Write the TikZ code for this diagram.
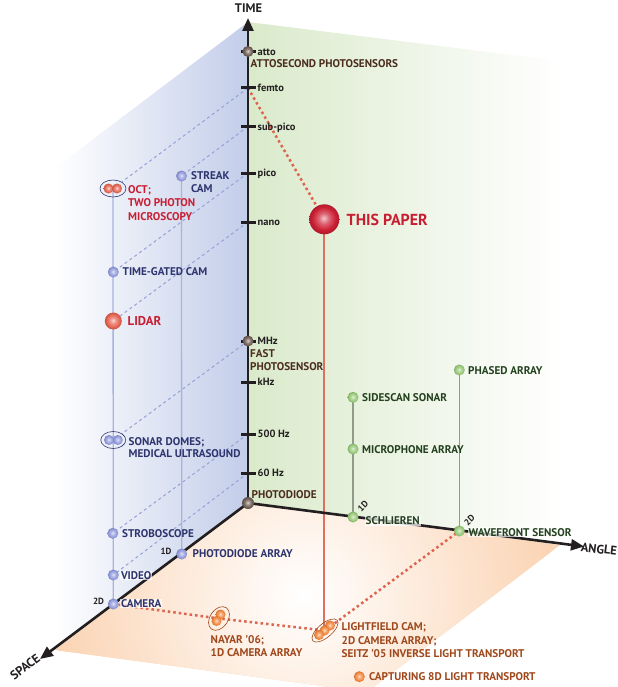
\documentclass[tikz,border=0pt]{standalone}
\usepackage{fontspec}
\setmainfont{PT Sans}
\usetikzlibrary{shapes.geometric,arrows.meta}
\pgfdeclarelayer{panels}
\pgfdeclarelayer{links}
\pgfsetlayers{panels,links,main}
\definecolor{axisC}{RGB}{35,31,32}
\definecolor{blueP}{RGB}{194,205,233}
\definecolor{greenP}{RGB}{218,234,203}
\definecolor{floorC}{RGB}{251,212,180}
\definecolor{navyT}{RGB}{45,52,110}
\definecolor{redT}{RGB}{200,30,50}
\definecolor{greenT}{RGB}{35,65,30}
\definecolor{floorT}{RGB}{160,72,28}
\definecolor{brownT}{RGB}{75,45,30}
\definecolor{blueS}{RGB}{145,155,220}
\definecolor{redS}{RGB}{230,100,80}
\definecolor{paperS}{RGB}{205,32,52}
\definecolor{greenS}{RGB}{150,200,118}
\definecolor{orangeS}{RGB}{243,135,60}
\definecolor{darkS}{RGB}{110,92,82}
\definecolor{bdashC}{RGB}{150,160,215}
\definecolor{bvertC}{RGB}{170,178,222}
\definecolor{gvertC}{RGB}{145,155,140}
\definecolor{rdotC}{RGB}{222,100,80}
\definecolor{rlineC}{RGB}{222,112,95}
\colorlet{sphcol}{blueS}
\pgfdeclareradialshading[sphcol]{softball}{\pgfpoint{-1bp}{2bp}}{%
  color(0bp)=(sphcol!25!white); color(9bp)=(sphcol!70!white);
  color(19bp)=(sphcol); color(25bp)=(sphcol!85!black); color(50bp)=(sphcol!85!black)}
\begin{document}
\begin{tikzpicture}[x=1bp,y=-1bp,
  tickm/.style={rectangle,fill=axisC,minimum width=15bp,minimum height=3bp,inner sep=0pt},
  sph/.style={circle,inner sep=0pt,minimum size=11bp},
  bc/.style={/utils/exec={\colorlet{sphcol}{#1}},shade,shading=softball},
  grp/.style={ellipse,draw,line width=0.6bp,inner sep=0pt},
  txt/.style={font=\bfseries\fontsize{11.2}{12.8}\selectfont,inner sep=1bp},
  lbl/.style={txt,anchor=west,text height=7.8bp,text depth=0bp},
  tlbl/.style={font=\bfseries\fontsize{10.5}{12}\selectfont,inner sep=1bp,anchor=west,text height=7.4bp,text depth=0bp,text=axisC},
  mlbl/.style={txt,anchor=north west,align=left},
  dimlbl/.style={font=\bfseries\fontsize{9}{10}\selectfont,inner sep=0.5bp,text=axisC},
  axlbl/.style={font=\bfseries\fontsize{12.5}{14}\selectfont,inner sep=0pt,text=axisC},
  bgw/.style={fill=white,fill opacity=0.7,text opacity=1},
  bdash/.style={draw=bdashC,line width=1bp,dash pattern=on 3bp off 3bp},
  bvert/.style={draw=bvertC,line width=1.3bp},
  gvert/.style={draw=gvertC,line width=1.3bp},
  rdot/.style={draw=rdotC,line width=2.5bp,dash pattern=on 2.5bp off 3bp},
  rline/.style={draw=rlineC,line width=2bp},
  axisline/.style={draw=axisC,line width=2.6bp,-{Triangle[width=11bp,length=13bp]}}
]
\useasboundingbox (0,0) rectangle (618,687);

% ---------- panels ----------
\begin{pgfonlayer}{panels}
\shade[left color=white,right color=blueP] (248,22) -- (55,168) -- (55,650) -- (248,503) -- cycle;
\shade[left color=greenP,right color=white] (248,22) -- (560,61) -- (560,545) -- (248,503) -- cycle;
\begin{scope}
\clip (248,503) -- (560,545) -- (367,692) -- (55,650) -- cycle;
\fill[floorC] (0,400) rectangle (618,700);
\shade[inner color=white,outer color=floorC] (303,595) circle (250);
\end{scope}
\end{pgfonlayer}

% ---------- axis ends ----------
\coordinate (ttop) at (248,18);
\coordinate (aend) at (584,546.5);
\coordinate (send) at (40,659);
\node[axlbl] (ltime) at (248.5,8) {TIME};
\node[axlbl,rotate=-7] (langle) at (599,549) {ANGLE};
\node[axlbl,rotate=37] (lspace) at (25,667) {SPACE};

% ---------- ticks ----------
\node[tickm] (tatto) at (248,51.5) {};
\node[tickm] (tfemto) at (248,88) {};
\node[tickm] (tsub) at (248,126.5) {};
\node[tickm] (tpico) at (248,173) {};
\node[tickm] (tnano) at (248,222) {};
\node[tickm] (tmhz) at (248,341) {};
\node[tickm] (tkhz) at (248,382) {};
\node[tickm] (t500) at (248,434) {};
\node[tickm] (t60) at (248,473) {};
\node[sph,bc=darkS] (satto) at (248,51.5) {};
\node[sph,bc=darkS] (smhz) at (248,341) {};
\node[sph,bc=darkS,minimum size=12bp] (pd) at (248,503) {};

\node[tlbl] (latto) at (256.5,51.5) {atto};
\node[tlbl] (lfemto) at (256.5,88) {femto};
\node[tlbl] (lsub) at (256.5,126.5) {sub-pico};
\node[tlbl] (lpico) at (256.5,173) {pico};
\node[tlbl] (lnano) at (256.5,222) {nano};
\node[tlbl] (lmhz) at (256.5,341) {MHz};
\node[tlbl] (lkhz) at (256.5,382) {kHz};
\node[tlbl] (l500) at (256.5,434) {500 Hz};
\node[tlbl] (l60) at (256.5,473) {60 Hz};
\node[lbl,text=brownT] (lattos) at (249.5,64) {ATTOSECOND PHOTOSENSORS};
\node[mlbl,text=brownT] (lfast) at (249,348.8) {FAST\\PHOTOSENSOR};
\node[lbl,text=brownT] (lpd) at (250.5,494.5) {PHOTODIODE};

% ---------- space-time items ----------
\node[grp,draw=navyT,minimum width=26bp,minimum height=17bp] (octE) at (113,188.5) {};
\node[sph,bc=redS,minimum size=10bp] (oct1) at (108.5,188.5) {};
\node[sph,bc=redS,minimum size=10bp] (oct2) at (117,188.5) {};
\node[mlbl,text=redT,font=\bfseries\fontsize{11.2}{13.3}\selectfont] (loct) at (127,184.4) {OCT;\\TWO PHOTON\\MICROSCOPY};

\node[sph,bc=blueS] (streak) at (181.5,176) {};
\node[mlbl,text=navyT,font=\bfseries\fontsize{11.2}{12.6}\selectfont] (lstreak) at (190,170.4) {STREAK\\CAM};

\node[sph,bc=blueS] (tgc) at (113.3,272) {};
\node[lbl,text=navyT] (ltgc) at (121.5,272) {TIME-GATED CAM};

\node[sph,bc=redS,minimum size=17bp] (lidar) at (113.3,321) {};
\node[lbl,text=redT,font=\bfseries\fontsize{12.8}{14}\selectfont,text height=9bp] (llidar) at (126.5,321) {LIDAR};

\node[grp,draw=navyT,minimum width=25bp,minimum height=17bp] (sonarE) at (113.3,440) {};
\node[sph,bc=blueS,minimum size=10bp] (sonar1) at (109,440) {};
\node[sph,bc=blueS,minimum size=10bp] (sonar2) at (117.8,440) {};
\node[mlbl,text=navyT,font=\bfseries\fontsize{11.2}{11.8}\selectfont] (lsonar) at (127.5,436.8) {SONAR DOMES;\\MEDICAL ULTRASOUND};

\node[sph,bc=blueS] (strobo) at (112.8,533.3) {};
\node[lbl,text=navyT] (lstrobo) at (121,533.3) {STROBOSCOPE};

\node[sph,bc=blueS] (pdarr) at (181.7,554) {};
\node[dimlbl] (d1a) at (166,551) {1D};
\node[lbl,text=navyT] (lpdarr) at (191.5,554) {PHOTODIODE ARRAY};

\node[sph,bc=blueS] (video) at (113.3,575) {};
\node[lbl,text=navyT,bgw] (lvideo) at (119.8,575.5) {VIDEO};

\node[sph,bc=blueS] (cam) at (113.3,604) {};
\node[dimlbl] (d2a) at (98.5,601.5) {2D};
\node[lbl,text=navyT,bgw] (lcam) at (119.8,603.5) {CAMERA};

% ---------- floor items ----------
\node[grp,draw=floorT,minimum width=26bp,minimum height=18bp,rotate=55] (nayE) at (219,618.5) {};
\node[sph,bc=orangeS,minimum size=10bp] (nay1) at (220.5,614.5) {};
\node[sph,bc=orangeS,minimum size=10bp] (nay2) at (216.5,621) {};
\node[mlbl,text=floorT,font=\bfseries\fontsize{11.2}{13}\selectfont] (lnay) at (209.5,634.4) {NAYAR ’06;\\1D CAMERA ARRAY};

\node[grp,draw=floorT,minimum width=32bp,minimum height=14bp,rotate=40] (lfE) at (325,630.5) {};
\node[sph,bc=orangeS,minimum size=10bp] (lf1) at (330,625.5) {};
\node[sph,bc=orangeS,minimum size=10bp] (lf2) at (324.5,630.5) {};
\node[sph,bc=orangeS,minimum size=10bp] (lf3) at (319,635) {};
\node[mlbl,text=floorT,font=\bfseries\fontsize{11.2}{13.2}\selectfont] (llf) at (340.5,621.8) {LIGHTFIELD CAM;\\2D CAMERA ARRAY;\\SEITZ ’05 INVERSE LIGHT TRANSPORT};

\node[sph,bc=orangeS,minimum size=11bp] (cap) at (359.3,676.7) {};
\node[lbl,text=floorT] (lcap) at (368,676.7) {CAPTURING 8D LIGHT TRANSPORT};

% ---------- time-angle items ----------
\node[sph,bc=paperS,minimum size=30bp] (paper) at (324.3,219.3) {};
\node[lbl,text=redT,font=\bfseries\fontsize{16}{18}\selectfont,text height=11.2bp] (lpaper) at (345.5,219.5) {THIS PAPER};

\node[sph,bc=greenS] (side) at (353,397.3) {};
\node[lbl,text=greenT] (lside) at (361,397.3) {SIDESCAN SONAR};
\node[sph,bc=greenS] (micro) at (353,449) {};
\node[lbl,text=greenT] (lmicro) at (361,449.3) {MICROPHONE ARRAY};
\node[sph,bc=greenS] (schl) at (353,517) {};
\node[dimlbl,rotate=45] (d1b) at (363,506.5) {1D};
\node[lbl,text=greenT,bgw] (lschl) at (364.5,520.7) {SCHLIEREN};

\node[sph,bc=greenS] (phased) at (459.3,370) {};
\node[lbl,text=greenT] (lphased) at (467,370.7) {PHASED ARRAY};
\node[sph,bc=greenS] (wave) at (459.3,531) {};
\node[dimlbl,rotate=45] (d2b) at (469.5,520) {2D};
\node[lbl,text=greenT,bgw] (lwave) at (467.5,532.3) {WAVEFRONT SENSOR};

% ---------- connectors ----------
\begin{pgfonlayer}{links}
\draw[bdash] (tfemto.center) -- (octE);
\draw[bdash] (tsub.center) -- (streak.center);
\draw[bdash] (tpico.center) -- (tgc.center);
\draw[bdash] (tnano.center) -- (lidar.center);
\draw[bdash] (tmhz.center) -- (sonarE);
\draw[bdash] (t500.center) -- (strobo.center);
\draw[bdash] (t60.center) -- (video.center);
\draw[bvert] (cam.center) -- (octE.center);
\draw[bvert] (pdarr.center) -- (streak.center);
\draw[gvert] (schl.center) -- (side.center);
\draw[gvert] (wave.center) -- (phased.center);
\draw[rdot] (tfemto.center) -- (paper);
\draw[rline] (paper.center) -- (paper.center |- lf2.center);
\draw[rdot] (cam.center) -- (nayE.center) -- (lfE.center) -- (wave.center);
\draw[axisline] (pd.center) -- (ttop);
\draw[axisline] (pd.center) -- (aend);
\draw[axisline] (pd.center) -- (send);
\end{pgfonlayer}
\end{tikzpicture}
\end{document}
